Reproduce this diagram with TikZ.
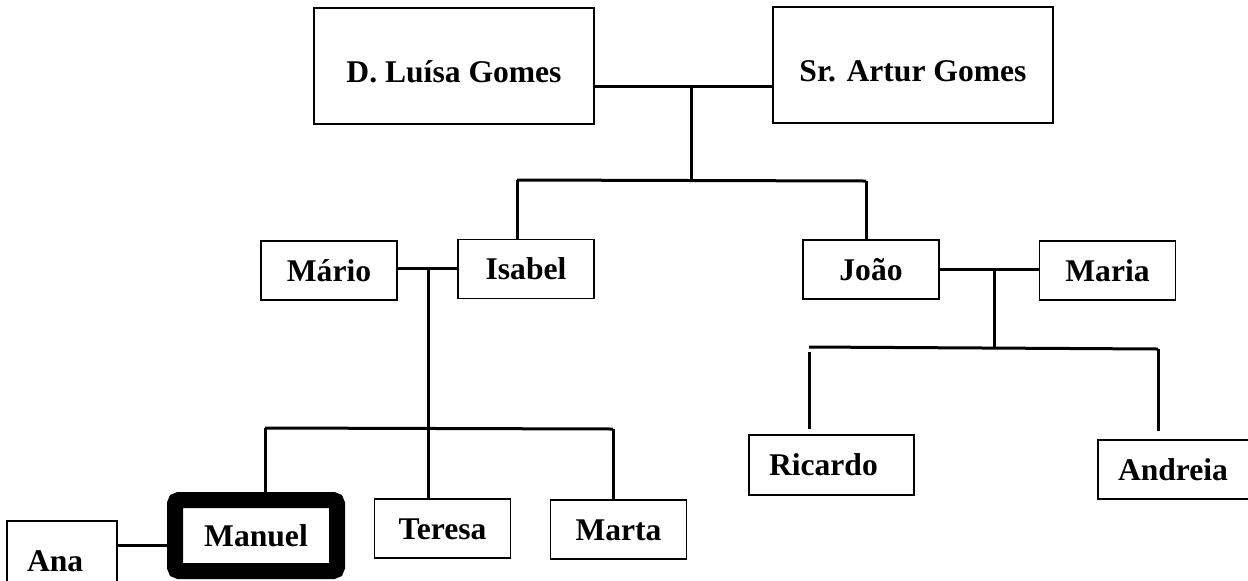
\documentclass[tikz,border=0pt]{standalone}
\usepackage{fontspec}
\setmainfont{Liberation Serif}
\usepackage{tikz}
\usetikzlibrary{calc}

\begin{document}
\begin{tikzpicture}[
		x=0.5pt, y=-0.5pt,
		person/.style={draw, line width=0.9pt, inner sep=0pt,
				text height=10.5pt, text depth=0pt,
				font=\fontsize{15.8pt}{18pt}\selectfont\bfseries},
		elder/.style={person, minimum width=140pt, minimum height=58pt,
				text height=16pt},
		kid/.style={person, minimum width=68pt, minimum height=29.5pt},
		leftbox/.style={person, inner xsep=10pt, align=left},
		me/.style={person, line width=8pt, rounded corners=2pt,
				minimum width=81pt, minimum height=35.5pt},
		wire/.style={line width=1.5pt}]

		\useasboundingbox[fill=white] (0,0) rectangle (1248,580);

		% ── grandparents ──
		\node[elder] (luisa) at (454,66) {D. Luísa Gomes};
		\node[elder] (artur) at (913,65) {Sr. Artur Gomes};

		% ── children and spouses ──
		\node[kid] (mario) at (329,270.5) {Mário};
		\node[kid] (isabel) at (526,269) {Isabel};
		\node[kid] (joao) at (871,269.5) {João};
		\node[kid] (maria) at (1107.5,270.5) {Maria};

		% ── grandchildren ──
		\node[me] (manuel) at (256,535.5) {Manuel};
		\node[kid] (teresa) at (442.5,528.5) {Teresa};
		\node[kid] (marta) at (618.5,529.5) {Marta};
		\node[leftbox, text width=62.5pt, minimum height=30pt] (ricardo) at (831.5,465) {Ricardo};
		\node[leftbox, text width=64pt, minimum height=29.5pt] (andreia) at (1182,469.5) {Andreia};
		\node[leftbox, text width=35pt, minimum height=39.5pt] (ana) at (62,560.5) {Ana};

		% ── Luísa + Artur ──
		\coordinate (wed1) at (691,86);
		\coordinate (fork1) at (691,180);
		\coordinate (sibsL) at (517,180);
		\coordinate (sibsR) at (866,181);
		\draw[wire] (luisa.east |- wed1) -- (artur.west |- wed1);
		\draw[wire] (wed1) -- (fork1);
		\draw[wire] (sibsL) -- (sibsR);
		\draw[wire] (sibsL) -- (sibsL |- isabel.north);
		\draw[wire] (sibsR) -- (sibsR |- joao.north);

		% ── Mário + Isabel ──
		\coordinate (wed2) at (428,268);
		\coordinate (fork2) at (428,428);
		\coordinate (cousL) at (265,428);
		\coordinate (cousR) at (613,429);
		\draw[wire] (mario.east |- wed2) -- (isabel.west |- wed2);
		\draw[wire] (wed2) -- (fork2);
		\draw[wire] (cousL) -- (cousR);
		\draw[wire] (cousL) -- (cousL |- manuel.north);
		\draw[wire] (fork2) -- (fork2 |- teresa.north);
		\draw[wire] (cousR) -- (cousR |- marta.north);

		% ── João + Maria ──
		\coordinate (wed3) at (994,269);
		\coordinate (fork3) at (994,347);
		\coordinate (grandL) at (809,347);
		\coordinate (grandR) at (1158,349);
		\draw[wire] (joao.east |- wed3) -- (maria.west |- wed3);
		\draw[wire] (wed3) -- (fork3);
		\draw[wire] (grandL) -- (grandR);
		\draw[wire] ($(grandL)+(0,5)$) -- ($(grandL |- ricardo.north)+(0,-5)$);
		\draw[wire] (grandR) -- ($(grandR |- andreia.north)+(0,-8)$);

		% ── Ana + Manuel ──
		\coordinate (wed4) at (142,545);
		\draw[wire] (ana.east |- wed4) -- (manuel.west |- wed4);

	\end{tikzpicture}
\end{document}
